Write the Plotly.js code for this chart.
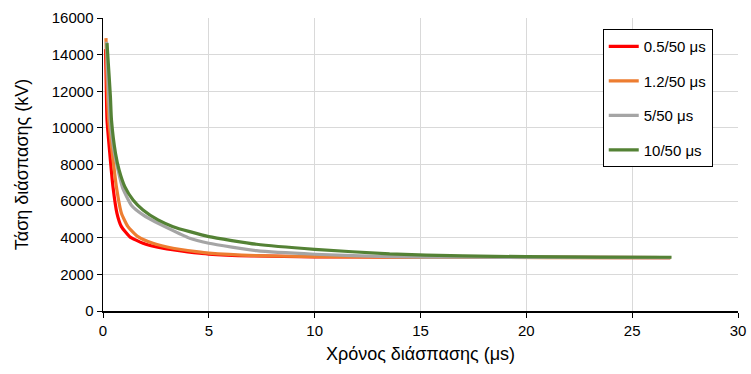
<!DOCTYPE html>
<html>
<head>
<meta charset="utf-8">
<script src="https://cdn.plot.ly/plotly-3.0.1.min.js"></script>
<style>
  html, body { margin: 0; padding: 0; background: #fff; }
  #chart { width: 751px; height: 374px; }
</style>
</head>
<body>
<div id="chart"></div>
<script>
// Breakdown voltage (kV) versus time to breakdown (µs) for four impulse shapes
const seriesNames = ["0.5/50 μs", "1.2/50 μs", "5/50 μs", "10/50 μs"];
const seriesColors = ["#FF0000", "#ED7D31", "#A5A5A5", "#548235"];

const tRed = [0.12, 0.15, 0.19, 0.32, 0.47, 0.66, 0.87, 1.26, 1.89, 2.83, 4.0, 5.0, 7.0, 10, 14, 18, 22, 26.8];
const vRed = [14300, 12500, 10437, 8617, 6793, 5337, 4607, 4060, 3698, 3424, 3230, 3110, 3010, 2960, 2940, 2930, 2925, 2920];

const tOrange = [0.14, 0.18, 0.22, 0.27, 0.44, 0.63, 0.87, 1.18, 1.65, 2.36, 3.31, 4.41, 5.0, 7.25, 10, 13.5, 17, 21, 26.8];
const vOrange = [14900, 13000, 11600, 10437, 8617, 6793, 5337, 4607, 4060, 3698, 3424, 3242, 3160, 3022, 2967, 2935, 2925, 2920, 2920];

const tGray = [0.17, 0.22, 0.28, 0.35, 0.54, 0.92, 1.34, 1.89, 2.68, 3.62, 4.1, 5.0, 7.25, 10, 13.54, 17, 21, 26.8];
const vGray = [14700, 13000, 11500, 10300, 8617, 6750, 5780, 5250, 4740, 4220, 3971, 3698, 3295, 3098, 2967, 2935, 2925, 2920];

const tGreen = [0.19, 0.25, 0.35, 0.40, 0.59, 0.76, 1.03, 1.42, 1.89, 2.6, 3.31, 4.1, 5.0, 7.25, 10, 13.54, 17, 20, 23.5, 26.86];
const vGreen = [14630, 13535, 11710, 10437, 8617, 7705, 6793, 6066, 5519, 4973, 4607, 4333, 4060, 3645, 3370, 3115, 3010, 2967, 2945, 2934];

const xs = [tRed, tOrange, tGray, tGreen];
const ys = [vRed, vOrange, vGray, vGreen];

const traces = seriesNames.map((name, i) => ({
  x: xs[i],
  y: ys[i],
  name: name,
  legendgroup: "g" + i,
  type: "scatter",
  mode: "lines",
  line: { color: seriesColors[i], width: 3.2, shape: "spline", smoothing: 0.5 },
  hoverinfo: "x+y+name"
}));

const fontFamily = "Liberation Sans, Arial, sans-serif";

const layout = {
  width: 751,
  height: 374,
  margin: { l: 103, r: 13, t: 18, b: 63 },
  paper_bgcolor: "#ffffff",
  plot_bgcolor: "#ffffff",
  font: { family: fontFamily, size: 15, color: "#000" },
  showlegend: true,
  legend: {
    x: 0.787, y: 0.962, xanchor: "left", yanchor: "top",
    bordercolor: "#000", borderwidth: 1, bgcolor: "#fff",
    font: { family: fontFamily, size: 15, color: "#000" },
    tracegroupgap: 12,
    itemwidth: 30
  },
  xaxis: {
    range: [0, 30],
    tick0: 0, dtick: 5,
    showgrid: true, gridcolor: "#d9d9d9", gridwidth: 1,
    showline: true, linecolor: "#000", linewidth: 1.5,
    ticks: "outside", ticklen: 5, tickcolor: "#000",
    zeroline: false,
    tickfont: { family: fontFamily, size: 15 },
    title: { text: "Χρόνος διάσπασης (μs)", font: { family: fontFamily, size: 18 }, standoff: 10 }
  },
  yaxis: {
    range: [0, 16000],
    tick0: 0, dtick: 2000,
    showgrid: true, gridcolor: "#d9d9d9", gridwidth: 1,
    showline: true, linecolor: "#000", linewidth: 1.5,
    ticks: "outside", ticklen: 5, tickcolor: "#000",
    zeroline: false,
    tickformat: "d",
    tickfont: { family: fontFamily, size: 15 },
    title: { text: "Τάση διάσπασης (kV)", font: { family: fontFamily, size: 18 }, standoff: 18 }
  }
};

Plotly.newPlot("chart", traces, layout, { staticPlot: true, displayModeBar: false });
</script>
</body>
</html>
